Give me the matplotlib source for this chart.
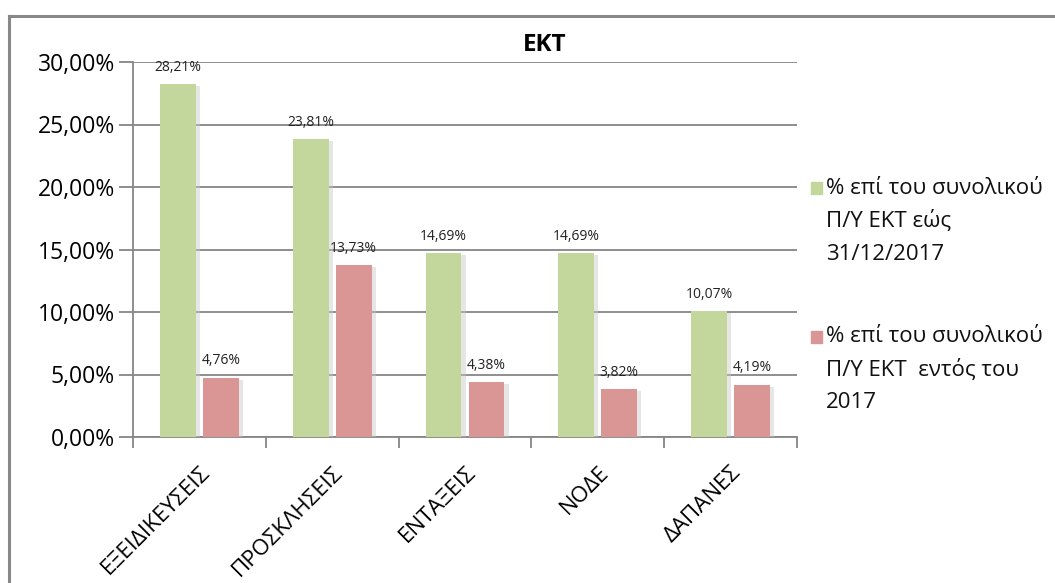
import matplotlib
matplotlib.use("Agg")
import matplotlib.pyplot as plt
import matplotlib.patches as mpatches
import matplotlib.patheffects as pe
import numpy as np

categories = ["ΕΞΕΙΔΙΚΕΥΣΕΙΣ", "ΠΡΟΣΚΛΗΣΕΙΣ", "ΕΝΤΑΞΕΙΣ", "ΝΟΔΕ", "ΔΑΠΑΝΕΣ"]
series_total = [28.21, 23.81, 14.69, 14.69, 10.07]
series_2017 = [4.76, 13.73, 4.38, 3.82, 4.19]
series_names = [["% επί του συνολικού", "Π/Υ ΕΚΤ εώς", "31/12/2017"],
                ["% επί του συνολικού", "Π/Υ ΕΚΤ  εντός του", "2017"]]
yticks = [0, 5, 10, 15, 20, 25, 30]
title = "ΕΚΤ"

plt.rcParams['font.family'] = ['Open Sans', 'DejaVu Sans']
green = "#c3d69b"
red = "#d99694"
grid_c = "#868686"

W, H = 1055, 583
fig = plt.figure(figsize=(W/100, H/100), dpi=100)
ax = fig.add_axes([133/W, 1-437/H, (797-133)/W, (437-62)/H])

x = np.arange(len(categories))
w = 0.27
off = 0.162
shadow = [pe.SimplePatchShadow(offset=(3, -1.5), shadow_rgbFace="#c8c8c8", alpha=0.45), pe.Normal()]
b1 = ax.bar(x - off, series_total, w, color=green, zorder=3, path_effects=shadow)
b2 = ax.bar(x + off, series_2017, w, color=red, zorder=3, path_effects=shadow)

def fmt(v):
    return f"{v:.2f}".replace(".", ",") + "%"

for bars, vals in ((b1, series_total), (b2, series_2017)):
    for r, v in zip(bars, vals):
        ax.text(r.get_x() + r.get_width()/2, v + 0.75, fmt(v), ha="center", va="bottom",
                fontsize=10, color="#222222", zorder=4)

ax.set_xlim(-0.5, len(categories) - 0.5)
ax.set_ylim(0, 30)
ax.set_yticks(yticks)
ax.set_yticklabels([f"{t:.2f}".replace(".", ",") + "%" for t in yticks], fontsize=16.5)
ax.yaxis.grid(True, color=grid_c, linewidth=1.3, zorder=0)
ax.set_axisbelow(True)

ax.set_xticks(x)
ax.set_xticklabels(categories, rotation=45, ha="right", rotation_mode="anchor", fontsize=16)
ax.tick_params(axis="x", which="major", length=0, pad=18)
ax.set_xticks(np.arange(-0.5, len(categories), 1), minor=True)
ax.tick_params(axis="x", which="minor", length=8, color=grid_c, width=1.3)
ax.tick_params(axis="y", length=10, color=grid_c, width=1.3, pad=3)

for s in ("top", "right"):
    ax.spines[s].set_visible(False)
for s in ("left", "bottom"):
    ax.spines[s].set_color(grid_c)
    ax.spines[s].set_linewidth(1.3)

fig.text(545/W, 1-45/H, title, ha="center", va="center", fontsize=17.5, fontweight="bold")

# legend drawn manually: marker aligned with first line
leg_items = [(green, 188), (red, 337)]
for (col, y0), lines in zip(leg_items, series_names):
    fig.add_artist(mpatches.Rectangle((811/W, 1-(y0+6)/H), 11/W, 12/H, color=col,
                                      transform=fig.transFigure))
    for i, line in enumerate(lines):
        fig.text(826/W, 1-(y0 + i*33)/H, line, ha="left", va="center", fontsize=16,
                 color="#111111")

# outer chart border (left and top visible)
fig.add_artist(plt.Line2D([9/W, 9/W], [0, 1-16/H], color="#888888", linewidth=2.2,
                          transform=fig.transFigure))
fig.add_artist(plt.Line2D([9/W, 1], [1-16/H, 1-16/H], color="#888888", linewidth=2.2,
                          transform=fig.transFigure))

fig.savefig("out.png", dpi=100)
